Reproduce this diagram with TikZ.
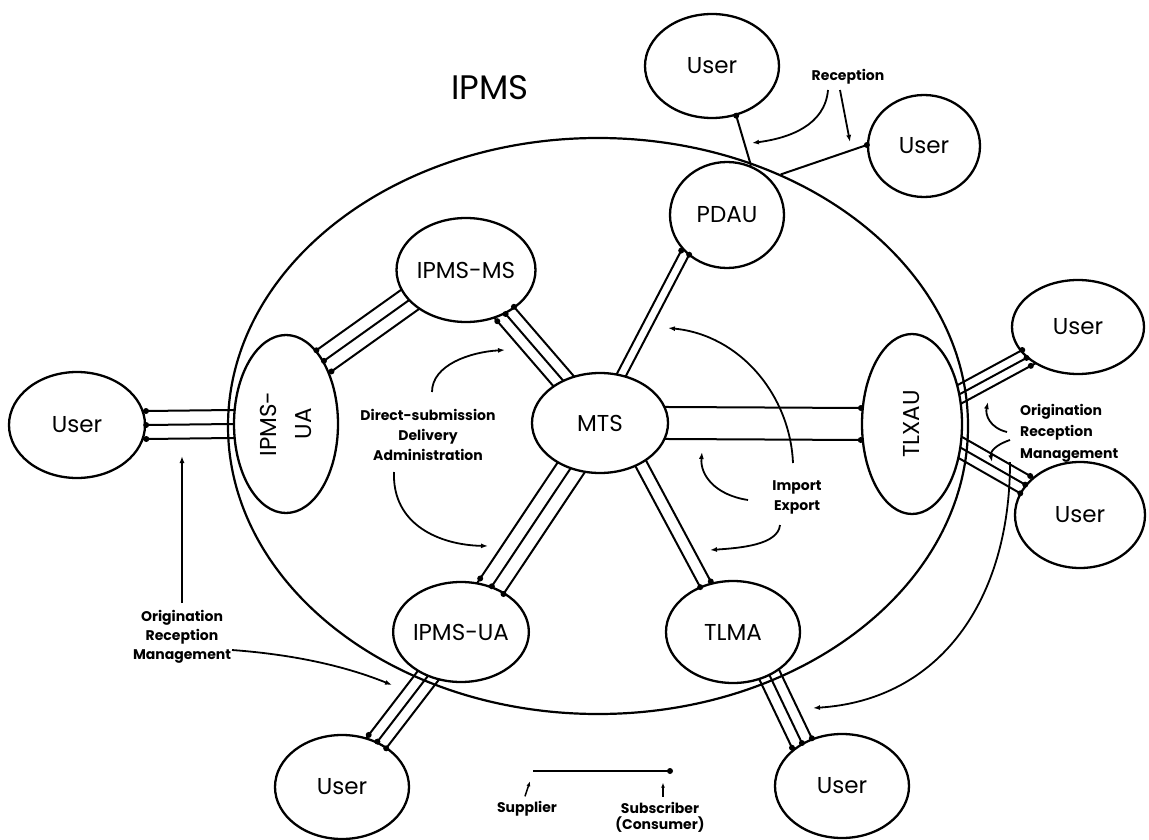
\documentclass[tikz,border=0pt]{standalone}
\usepackage{fontspec}
\setmainfont{Poppins}
\usetikzlibrary{calc,shapes.geometric,arrows.meta}
\pgfdeclarelayer{background}
\pgfsetlayers{background,main}

\newcommand{\unitfont}{\fontsize{23}{28}\selectfont}
\newcommand{\notefont}{\fontsize{14}{20}\selectfont\bfseries}
\newcommand{\titlefont}{\fontsize{34}{40}\selectfont}

% Parallel wires from a supplier anchor (#1) to a subscriber anchor (#2);
% #3 lists the perpendicular offsets. Wires run behind the units, dots mark
% the subscriber end of every wire.
\newcommand{\wires}[3]{%
  \begin{pgfonlayer}{background}
    \foreach \o in {#3} {
      \draw[wire] ($(#1)!\o!90:(#2)$) -- ($(#2)!\o!-90:(#1)$);
    }
  \end{pgfonlayer}
  \foreach \o in {#3} {
    \fill ($(#2)!\o!-90:(#1)$) circle[radius=3pt];
  }
}

\begin{document}
\begin{tikzpicture}[x=1pt,y=-1pt,
  unit/.style={draw, ellipse, fill=white, line width=2.3pt, inner sep=0pt, font=\unitfont},
  wire/.style={line width=2pt, shorten <=-6pt, shorten >=-6pt},
  single/.style={line width=2pt},
  note/.style={font=\notefont, align=center, inner sep=0pt},
  pointer/.style={line width=1.8pt, -{Latex[length=7pt,width=5pt]}}]
\useasboundingbox (0,0) rectangle (1149,840);

% the IPMS domain
\begin{pgfonlayer}{background}
  \node[draw, ellipse, line width=2.2pt, minimum width=740pt, minimum height=576pt, inner sep=0pt] (ipms) at (598,426) {};
\end{pgfonlayer}
\node[font=\titlefont] (title) at (490,88) {IPMS};

% functional units
\node[unit, minimum width=136pt, minimum height=106pt] (ul)  at (77,425)  {User};
\node[unit, minimum width=104pt, minimum height=178pt] (ipmsua) at (286,424) {};
\node[rotate=90, align=center, font=\fontsize{23}{35}\selectfont] (ipmsuaT) at (ipmsua.center) {IPMS-\\UA};
\node[unit, minimum width=134pt, minimum height=104pt] (ipmsms) at (466,270) {IPMS-MS};
\node[unit, minimum width=136pt, minimum height=100pt] (mts) at (600,423) {MTS};
\node[unit, minimum width=114pt, minimum height=106pt] (pdau) at (727,215) {PDAU};
\node[unit, minimum width=134pt, minimum height=104pt] (utop) at (712,66) {User};
\node[unit, minimum width=112pt, minimum height=102pt] (utr) at (924,146) {User};
\node[unit, minimum width=100pt, minimum height=180pt] (tlxau) at (912,424) {};
\node[rotate=90, font=\unitfont] (tlxauT) at (tlxau.center) {TLXAU};
\node[unit, minimum width=132pt, minimum height=94pt]  (ur1) at (1078,327) {User};
\node[unit, minimum width=130pt, minimum height=106pt] (ur2) at (1080,515) {User};
\node[unit, minimum width=132pt, minimum height=100pt] (ipmsuab) at (461,632) {IPMS-UA};
\node[unit, minimum width=134pt, minimum height=102pt] (tlma) at (733,632) {TLMA};
\node[unit, minimum width=134pt, minimum height=104pt] (ubl) at (342,787) {User};
\node[unit, minimum width=134pt, minimum height=104pt] (ubr) at (842,786) {User};

% supplier -> subscriber wires
\wires{ipmsua.180}{ul.0}{-14pt,0pt,14pt}
\wires{ipmsms.208.9}{ipmsua.59.5}{-13pt,0pt,13pt}
\wires{mts.131.2}{ipmsms.-48.8}{-11pt,0pt,11pt}
\wires{mts.66.7}{pdau.222.6}{-4.5pt,4.5pt}
\wires{mts.0}{tlxau.180}{-16pt,16pt}
\wires{mts.-123.6}{ipmsuab.56.4}{-14pt,0pt,14pt}
\wires{mts.-45}{tlma.120.8}{-6pt,6pt}
\wires{ipmsuab.-127.5}{ubl.52.5}{-11pt,0pt,11pt}
\wires{tlma.-50.5}{ubr.133.6}{-11pt,0pt,11pt}
\wires{tlxau.32}{ur1.211.8}{-9pt,0pt,9pt}
\wires{tlxau.-26.6}{ur2.151}{-10pt,0pt,10pt}

% single reception lines at the PDAU
\draw[single] (pdau.64) -- (utop.-64);
\fill (utop.-64) circle[radius=3pt];
\draw[single] (ipms.54) -- (utr.179);
\fill (utr.179) circle[radius=3pt];

% annotations
\node[note] (recv) at (848,77) {Reception};
\coordinate (recvA) at (752,143);
\coordinate (recvB) at (850,142);
\draw[pointer] (828,90) .. controls (825,125) and (790,138) .. (recvA);
\draw[pointer] (840,90) -- (recvB);

\node[note, text width=150pt] (dsub) at (428,435) {Direct-submission\\Delivery\\Administration};
\coordinate (dsubA) at (505,350);
\coordinate (dsubB) at (488,546);
\draw[pointer] (432,392) .. controls (432,365) and (470,352) .. (dsubA);
\draw[pointer] (394,472) .. controls (392,525) and (440,545) .. (dsubB);

\node[note] (impexp) at (797,497) {Import\\Export};
\coordinate (ieA) at (668,328);
\coordinate (ieB) at (702,452);
\coordinate (ieC) at (710,550);
\draw[pointer] (793,463) .. controls (790,395) and (740,335) .. (ieA);
\draw[pointer] (748,500) .. controls (715,495) and (700,475) .. (ieB);
\draw[pointer] (780,525) .. controls (778,545) and (740,548) .. (ieC);

\node[note, align=left, anchor=west, font=\fontsize{14}{21.5}\selectfont\bfseries] (orgR) at (1020,433) {Origination\\Reception\\Management};
\coordinate (orA) at (988,402);
\coordinate (orB) at (992,462);
\coordinate (orC) at (813,708);
\draw[pointer] (1007,432) .. controls (990,428) and (985,415) .. (orA);
\draw[pointer] (1010,440) .. controls (995,445) and (990,452) .. (orB);
\draw[pointer] (1010,462) .. controls (1010,600) and (940,700) .. (orC);

\node[note, font=\fontsize{14}{19}\selectfont\bfseries] (orgL) at (182,637) {Origination\\Reception\\Management};
\coordinate (olA) at (182,456);
\coordinate (olB) at (392,685);
\draw[pointer] (182,603) -- (olA);
\draw[pointer] (232,650) .. controls (300,655) and (350,668) .. (olB);

% legend
\coordinate (supplier) at (533,771);
\coordinate (subscriber) at (670,771);
\draw[single] (supplier) -- (subscriber);
\fill (subscriber) circle[radius=3pt];
\node[note] (supl) at (527,809) {Supplier};
\node[note, font=\fontsize{14}{16}\selectfont\bfseries] (subs) at (660,817) {Subscriber\\(Consumer)};
\draw[line width=1.5pt, -{Latex[length=5pt,width=4pt]}] (supl.north) ++(-2,-5) -- ++(5,-15);
\draw[line width=1.5pt, -{Latex[length=5pt,width=4pt]}] (subs.north) ++(3,-5) -- ++(0,-14);
\end{tikzpicture}
\end{document}
